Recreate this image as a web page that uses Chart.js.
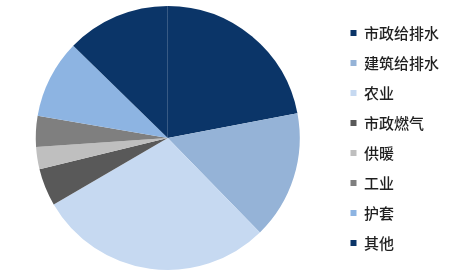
<!DOCTYPE html>
<html>
<head>
<meta charset="utf-8">
<script src="https://cdn.jsdelivr.net/npm/chart.js@4/dist/chart.umd.min.js"></script>
<style>
  html, body { margin: 0; padding: 0; background: #ffffff; }
  #wrap { width: 474px; height: 275px; position: relative; }
</style>
</head>
<body>
<div id="wrap"><canvas id="pie"></canvas></div>
<script>
// Application segments and their shares (%)
const categories = ['市政给排水', '建筑给排水', '农业', '市政燃气', '供暖', '工业', '护套', '其他'];
const shares = [22.0, 15.7, 28.9, 4.6, 2.7, 3.8, 9.6, 12.7];
const sliceColors = ['#0b3568', '#95b3d7', '#c6d9f1', '#595959', '#bfbfbf', '#7f7f7f', '#8db4e2', '#0b3568'];

new Chart(document.getElementById('pie'), {
  type: 'pie',
  data: {
    labels: categories,
    datasets: [{
      data: shares,
      backgroundColor: sliceColors,
      borderWidth: 0
    }]
  },
  options: {
    responsive: true,
    maintainAspectRatio: false,
    animation: false,
    layout: { padding: { left: -1, right: 25, top: 6, bottom: 5 } },
    plugins: {
      tooltip: { enabled: false },
      legend: {
        position: 'right',
        labels: {
          font: { family: '"Noto Sans CJK SC", "Microsoft YaHei", sans-serif', size: 15, weight: 500 },
          color: '#1f1f1f',
          boxWidth: 6,
          boxHeight: 6,
          padding: 15
        }
      }
    }
  }
});
</script>
</body>
</html>
